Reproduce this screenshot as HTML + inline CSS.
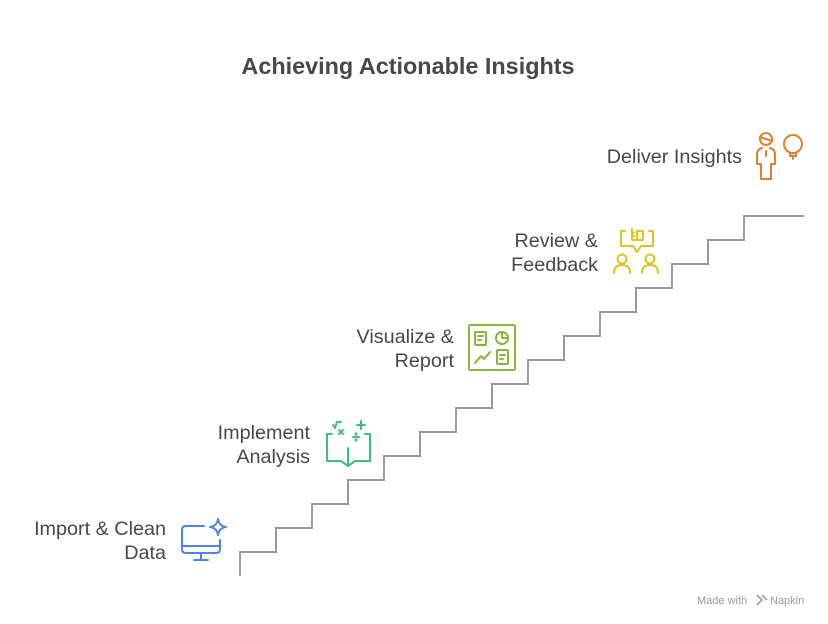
<!DOCTYPE html>
<html><head><style>
body{margin:0;background:#fff;}
svg{display:block;}
text{font-family:"Liberation Sans",Arial,sans-serif;fill:#484848;}
</style></head><body>
<svg width="828" height="624" viewBox="0 0 828 624" xmlns="http://www.w3.org/2000/svg">
<text x="408" y="74" font-size="23.4" font-weight="bold" text-anchor="middle" fill="#444">Achieving Actionable Insights</text>
<path d="M240 576 V552 H276 V528 H312 V504 H348 V480 H384 V456 H420 V432 H456 V408 H492 V384 H528 V360 H564 V336 H600 V312 H636 V288 H672 V264 H708 V240 H744 V216 H804" fill="none" stroke="#999" stroke-width="2"/>
<g font-size="19.8" text-anchor="end">
<text x="166" y="535">Import &amp; Clean</text>
<text x="166" y="559">Data</text>
<text x="310" y="439">Implement</text>
<text x="310" y="463">Analysis</text>
<text x="454" y="343">Visualize &amp;</text>
<text x="454" y="367">Report</text>
<text x="598" y="247">Review &amp;</text>
<text x="598" y="271">Feedback</text>
<text x="742" y="163">Deliver Insights</text>
</g>
<g fill="none" stroke="#4a86e0" stroke-width="2" stroke-linecap="round" stroke-linejoin="round">
<path d="M204 526 H186 Q182 526 182 530 V549 Q182 553 186 553 H216 Q220 553 220 549 V540"/>
<path d="M182 546 H220"/><path d="M201 553 V559 M194 560 H208"/>
<path d="M218 519 Q219 526 226 527 Q219 528 218 535 Q217 528 210 527 Q217 526 218 519Z"/>
</g>
<g fill="none" stroke="#3cc07c" stroke-width="2" stroke-linecap="round" stroke-linejoin="round">
<path d="M332 434 H327 V461 H341 L348 466 L355 461 H370 V434 H365"/>
<path d="M348 448 V466"/>
<path d="M333 425 L335 428 L337 422 H341"/>
<path d="M361 421 V429 M357 425 H365"/>
<path d="M339 430 L343 434 M343 430 L339 434"/>
<path d="M353 437 H359"/><circle cx="356" cy="434" r="0.6"/><circle cx="356" cy="440" r="0.6"/>
</g>
<g fill="none" stroke="#86b73a" stroke-width="2" stroke-linecap="round" stroke-linejoin="round">
<rect x="469" y="325" width="46" height="45" rx="1.5"/>
<rect x="475" y="332" width="11" height="13" rx="1"/><path d="M478 336 H483 M478 340 H481"/>
<circle cx="502" cy="338" r="6"/><path d="M502 332 V338 H508"/>
<path d="M475 363 L481 356 L484 359 L490 352"/>
<rect x="497" y="350" width="11" height="14" rx="1"/><path d="M500 355 H505 M500 359 H503"/>
</g>
<g fill="none" stroke="#e0c41c" stroke-width="2" stroke-linecap="round" stroke-linejoin="round">
<path d="M625 231 H621 V246 H633 L637 252 L641 246 H653 V231 H649"/>
<path d="M632 229 V240 H643 V231 H637 V240 M632 233 H634 M632 236 H634"/>
<circle cx="622" cy="259" r="4.5"/><path d="M614 273 Q614 265 622 265 Q630 265 630 273"/>
<circle cx="650" cy="259" r="4.5"/><path d="M642 273 Q642 265 650 265 Q658 265 658 273"/>
</g>
<g fill="none" stroke="#e0802c" stroke-width="2" stroke-linecap="round" stroke-linejoin="round">
<circle cx="766" cy="139" r="6"/><path d="M760 137 L772 141"/>
<path d="M766 151 V156"/>
<path d="M762 148 Q757 149 757 155 V164 H761 V179 H771 V164 H775 V155 Q775 149 770 148"/>
<circle cx="793" cy="144" r="9"/><path d="M790 153 V156 H796 V153 M793 156 V159"/>
</g>
<text x="697" y="604" font-size="11" style="fill:#999">Made with</text>
<path d="M757 595 L762 600 L757 605 M762 595 L767 600" stroke="#999" fill="none" stroke-width="1.5"/>
<text x="770" y="604" font-size="11" style="fill:#999">Napkin</text>
</svg>
</body></html>
